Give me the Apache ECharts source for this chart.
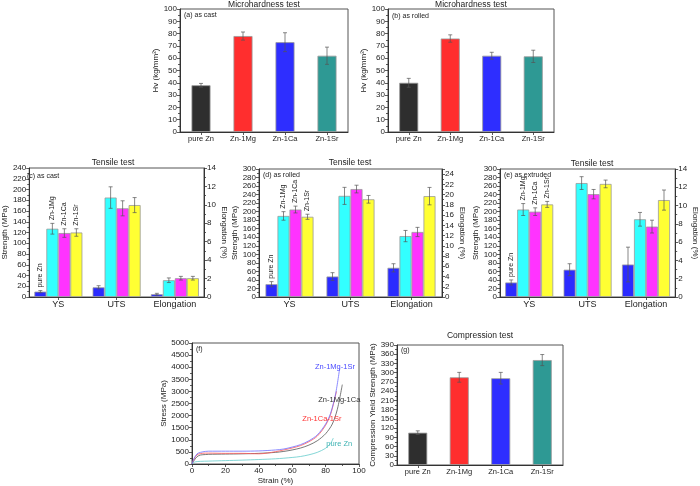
<!DOCTYPE html>
<html><head><meta charset="utf-8">
<script src="https://cdn.jsdelivr.net/npm/echarts@6/dist/echarts.min.js"></script>
<style>html,body{margin:0;padding:0;background:#fff}#c{width:700px;height:486px}</style>
</head><body><div id="c"></div><script>
const FONT = '"Liberation Sans", Arial, sans-serif';

// ---------- data ----------
const alloys = ['pure Zn', 'Zn-1Mg', 'Zn-1Ca', 'Zn-1Sr'];
const hvCast = [38, 78, 73, 62];
const hvCastErr = [1.5, 3.3, 7.7, 7];
const hvRolled = [40, 76, 62, 61.5];
const hvRolledErr = [3.6, 3, 2.8, 5];

const tensileCats = ['YS', 'UTS', 'Elongation'];
const castYS = [10, 127, 119, 120];
const castYSErr = [2, 10, 8, 7];
const castUTS = [18, 185, 165, 171];
const castUTSErr = [3, 20, 14, 14];
const castEl = [0.3, 1.82, 2.04, 2.04];
const castElErr = [0.1, 0.25, 0.2, 0.2];

const rolledYS = [30, 190, 205, 188];
const rolledYSErr = [6, 10, 8, 6];
const rolledUTS = [48, 237, 253, 229];
const rolledUTSErr = [9, 20, 9, 9];
const rolledEl = [5.7, 11.9, 12.7, 19.7];
const rolledElErr = [0.8, 1.1, 0.9, 1.7];

const extYS = [34, 205, 200, 217];
const extYSErr = [6, 14, 9, 7];
const extUTS = [64, 267, 241, 265];
const extUTSErr = [14, 15, 11, 9];
const extEl = [3.55, 8.5, 7.7, 10.6];
const extElErr = [1.9, 0.75, 0.7, 1.1];

const compYS = [105, 285, 282, 341];
const compYSErr = [6, 16, 19, 18];

const curveNames = ['Zn-1Mg-1Sr', 'Zn-1Mg-1Ca', 'Zn-1Ca-1Sr', 'pure Zn'];
const curveZnMgSr = [[0,0],[1,200],[3,420],[5,480],[8,520],[10,530],[20,530],[30,530],[40,540],[50,580],[55,620],[60,700],[65,800],[70,960],[75,1200],[80,1650],[83,2100],[86,2900],[88.4,3940]];
const curveZnMgCa = [[0,0],[1,120],[3,300],[5,370],[8,390],[10,400],[20,410],[30,420],[40,440],[50,480],[55,520],[60,580],[65,660],[70,780],[75,960],[80,1250],[84,1650],[87,2250],[90,3280]];
const curveZnCaSr = [[0,0],[1,180],[3,380],[5,430],[8,450],[10,450],[20,440],[30,440],[40,420],[45,450],[50,510],[55,580],[60,660],[65,760],[70,920],[75,1150],[80,1600],[83,2050],[86.5,3000]];
const curveZn = [[0,0],[1,60],[2,90],[5,110],[10,120],[20,140],[30,160],[40,185],[50,215],[60,270],[65,310],[70,380],[75,480],[80,650],[83,850],[84.6,1070]];
const curveLabelPos = [[85.6,4010],[88.2,2665],[77.8,1854],[88.2,810]];

const hardColors = ['#2e2e2e', '#ff2e2e', '#2e2eff', '#2e9994'];
const tensileColors = ['#2b2bff', '#33ffff', '#ff33ff', '#ffff33'];
const curveColors = ['#6f6fff', '#555555', '#ff5a5a', '#63cccc'];
const curveTextColors = ['#4a4aff', '#333333', '#ff3333', '#3fb3b3'];

// ---------- layout ----------
const grids = [
  {left:180, top:9,   width:168, height:123},
  {left:388, top:9,   width:166, height:123},
  {left:22,  top:168, width:182, height:129},
  {left:259, top:169, width:183, height:128},
  {left:500, top:169, width:183, height:128},
  {left:192, top:343, width:167, height:121},
  {left:397, top:345, width:166, height:120}
].map(g => Object.assign({show:true, borderColor:'#555', borderWidth:1, backgroundColor:'transparent'}, g));

const lineStyle = {color:'#333', width:1};
const plainLabel = {fontSize:8, color:'#222', margin:3, fontFamily:FONT, formatter: v => String(v)};
function valAxis(grid, min, max, interval, extra) {
  return Object.assign({
    type:'value', gridIndex:grid, min, max, interval,
    axisLine:{show:true, onZero:false, lineStyle},
    axisTick:{show:true, length:3, lineStyle:{color:'#333', width:0.8}},
    minorTick:{show:true, splitNumber:2, length:2, lineStyle:{color:'#333', width:0.8}},
    axisLabel:plainLabel,
    splitLine:{show:false},
    nameLocation:'middle',
    nameTextStyle:{fontSize:8, color:'#222', fontFamily:FONT}
  }, extra || {});
}
function catAxis(grid, data, fs, show) {
  return {
    type:'category', gridIndex:grid, data, show: show !== false,
    axisLine:{show:true, onZero:false, lineStyle},
    axisTick:{show:true, alignWithLabel:true, length:3, lineStyle:{color:'#333', width:0.8}},
    axisLabel:{fontSize:fs, color:'#222', margin:3, fontFamily:FONT},
    splitLine:{show:false}
  };
}

const xAxis = [
  catAxis(0, alloys, 7.5),
  catAxis(1, alloys, 7.5),
  catAxis(2, tensileCats, 9),
  catAxis(2, tensileCats, 9, false),
  catAxis(3, tensileCats, 9),
  catAxis(3, tensileCats, 9, false),
  catAxis(4, tensileCats, 9),
  catAxis(4, tensileCats, 9, false),
  valAxis(5, 0, 100, 20, {name:'Strain (%)', nameGap:13}),
  catAxis(6, alloys, 7.5)
];
const evenOnly = {fontSize:8, color:'#222', margin:3, fontFamily:FONT, formatter: v => (v % 2 === 0 ? String(v) : '')};
const yAxis = [
  valAxis(0, 0, 100, 10, {name:'Hv (kg/mm²)', nameGap:15}),
  valAxis(1, 0, 100, 10, {name:'Hv (kg/mm²)', nameGap:15}),
  valAxis(2, 0, 240, 20, {name:'Strength (MPa)', nameGap:14}),
  valAxis(2, 0, 14, 2, {position:'right', name:'Elongation (%)', nameGap:12, nameRotate:-90}),
  valAxis(3, 0, 300, 20, {name:'Strength (MPa)', nameGap:16}),
  valAxis(3, 0, 25, 2, {position:'right', name:'Elongation (%)', nameGap:10, nameRotate:-90, axisLabel:evenOnly}),
  valAxis(4, 0, 300, 20, {name:'Strength (MPa)', nameGap:14}),
  valAxis(4, 0, 14, 2, {position:'right', name:'Elongation (%)', nameGap:11, nameRotate:-90}),
  valAxis(5, 0, 5000, 500, {name:'Stress (MPa)', nameGap:20}),
  valAxis(6, 0, 390, 30, {name:'Compression Yield Strength (MPa)', nameGap:17})
];

// ---------- series helpers ----------
function bar(xi, yi, data, color, bw) {
  return {type:'bar', xAxisIndex:xi, yAxisIndex:yi, data, barWidth:bw, barGap:'0%',
    itemStyle:{color, borderColor:'#9a9a9a', borderWidth:0.8}, silent:true, z:2};
}
function errSeries(xi, yi, items, n, bw) {
  return {
    type:'custom', xAxisIndex:xi, yAxisIndex:yi, data:items, clip:false, z:5, silent:true,
    encode:{x:0, y:1},
    renderItem:(params, api) => {
      const c = api.value(0), v = api.value(1), e = api.value(2), s = api.value(3), li = api.value(4);
      const off = (s - (n - 1) / 2) * bw;
      const pt = api.coord([c, v + e]), pb = api.coord([c, v - e]);
      const x = pt[0] + off;
      const st = {stroke:'#555', lineWidth:0.7};
      const ch = [
        {type:'line', shape:{x1:x, y1:pt[1], x2:x, y2:pb[1]}, style:st},
        {type:'line', shape:{x1:x-2, y1:pt[1], x2:x+2, y2:pt[1]}, style:st},
        {type:'line', shape:{x1:x-2, y1:pb[1], x2:x+2, y2:pb[1]}, style:st}
      ];
      if (li >= 0) {
        ch.push({type:'text', x:x, y:pt[1] - 3, rotation:Math.PI / 2,
          style:{text:alloys[li], fontSize:7, fill:'#222', fontFamily:FONT,
            align:'left', verticalAlign:'middle', textAlign:'left', textVerticalAlign:'middle'}});
      }
      return {type:'group', children:ch};
    }
  };
}
function hardPanel(xi, yi, vals, errs) {
  return [
    {type:'bar', xAxisIndex:xi, yAxisIndex:yi, barWidth:19, silent:true,
      data: vals.map((v, i) => ({value:v, itemStyle:{color:hardColors[i]}})),
      itemStyle:{borderColor:'#9a9a9a', borderWidth:0.8}},
    errSeries(xi, yi, vals.map((v, i) => [i, v, errs[i], 0, -1]), 1, 19)
  ];
}
function tensilePanel(xMain, xHid, yL, yR, ys, ysE, uts, utsE, el, elE) {
  const out = [];
  const BW = 12;
  for (let s = 0; s < 4; s++) out.push(bar(xMain, yL, [ys[s], uts[s], '-'], tensileColors[s], BW));
  for (let s = 0; s < 4; s++) out.push(bar(xHid, yR, ['-', '-', el[s]], tensileColors[s], BW));
  const strItems = [], elItems = [];
  for (let s = 0; s < 4; s++) {
    strItems.push([0, ys[s], ysE[s], s, s]);
    strItems.push([1, uts[s], utsE[s], s, -1]);
    elItems.push([2, el[s], elE[s], s, -1]);
  }
  out.push(errSeries(xMain, yL, strItems, 4, BW));
  out.push(errSeries(xHid, yR, elItems, 4, BW));
  return out;
}
const curves = [curveZnMgSr, curveZnMgCa, curveZnCaSr, curveZn];
const curveSeries = curves.map((d, i) => ({
  type:'line', xAxisIndex:8, yAxisIndex:8, data:d, smooth:0.3, showSymbol:false, silent:true,
  lineStyle:{color:curveColors[i], width:0.8}, z:i === 0 ? 4 : 3,
  markPoint:{symbol:'circle', symbolSize:0, silent:true,
    label:{show:true, formatter:'{b}', position:'inside', color:curveTextColors[i], fontSize:7.5, fontFamily:FONT},
    data:[{name:curveNames[i], coord:curveLabelPos[i]}]}
}));

const series = [].concat(
  hardPanel(0, 0, hvCast, hvCastErr),
  hardPanel(1, 1, hvRolled, hvRolledErr),
  tensilePanel(2, 3, 2, 3, castYS, castYSErr, castUTS, castUTSErr, castEl, castElErr),
  tensilePanel(4, 5, 4, 5, rolledYS, rolledYSErr, rolledUTS, rolledUTSErr, rolledEl, rolledElErr),
  tensilePanel(6, 7, 6, 7, extYS, extYSErr, extUTS, extUTSErr, extEl, extElErr),
  curveSeries,
  hardPanel(9, 9, compYS, compYSErr)
);

function txt(x, y, text, size, align) {
  return {type:'text', x, y, silent:true,
    style:{text, fontSize:size, fill:'#222', fontFamily:FONT,
      align:align || 'left', verticalAlign:'middle', textAlign:align || 'left', textVerticalAlign:'middle'}};
}
const graphic = [
  txt(264, 5, 'Microhardness test', 8.5, 'center'),
  txt(471, 5, 'Microhardness test', 8.5, 'center'),
  txt(184, 15, '(a) as cast', 7),
  txt(392, 16, '(b) as rolled', 7),
  txt(113, 163, 'Tensile test', 8.5, 'center'),
  txt(350, 163, 'Tensile test', 8.5, 'center'),
  txt(592, 164, 'Tensile test', 8.5, 'center'),
  txt(27, 176, '(c) as cast', 7),
  txt(263, 175, '(d) as rolled', 7),
  txt(504, 175, '(e) as extruded', 7),
  txt(196, 349, '(f)', 7),
  txt(401, 350, '(g)', 7),
  txt(480, 336, 'Compression test', 8.5, 'center')
];

const chart = echarts.init(document.getElementById('c'), null, {renderer:'canvas'});
chart.setOption({animation:false, backgroundColor:'#fff', grid:grids, xAxis, yAxis, series, graphic});
</script></body></html>
